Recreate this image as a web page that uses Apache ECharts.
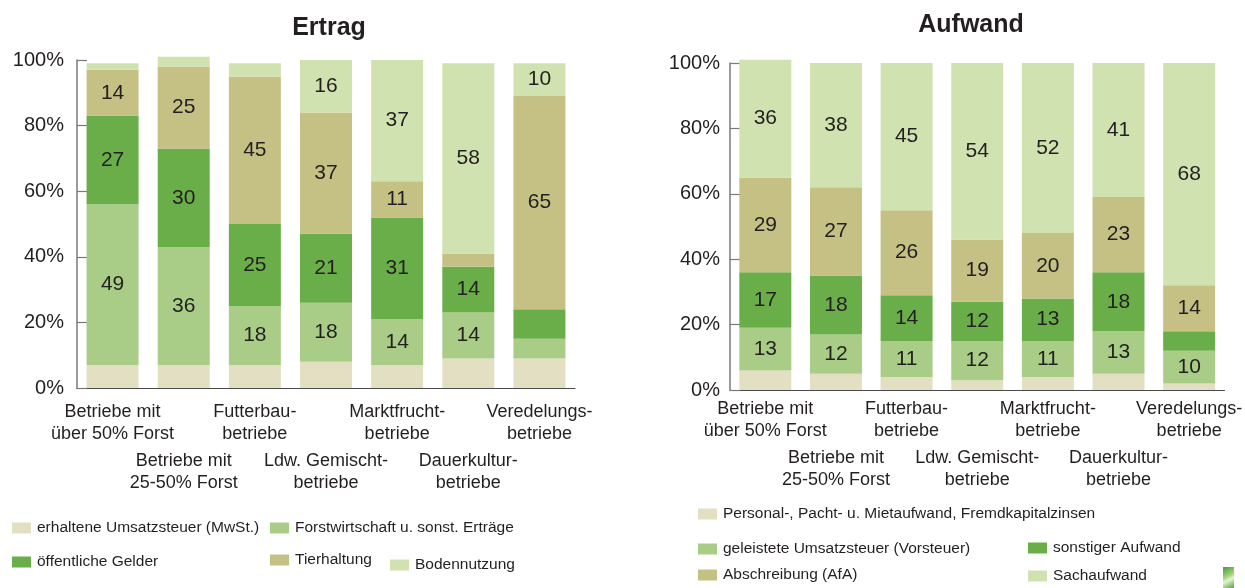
<!DOCTYPE html>
<html>
<head>
<meta charset="utf-8">
<script src="https://cdn.jsdelivr.net/npm/echarts@6/dist/echarts.min.js"></script>
<style>
  html, body { margin: 0; padding: 0; background: #fff; }
  #chart { width: 1245px; height: 588px; }
</style>
</head>
<body>
<div id="chart"></div>
<script>
// Betriebsformen (x-axis categories, shared by both panels)
const categories = [
  'Betriebe mit\nüber 50% Forst',
  'Betriebe mit\n25-50% Forst',
  'Futterbau-\nbetriebe',
  'Ldw. Gemischt-\nbetriebe',
  'Marktfrucht-\nbetriebe',
  'Dauerkultur-\nbetriebe',
  'Veredelungs-\nbetriebe'
];
const yTickMin = 0;
const yTickMax = 100;
const yTickStep = 20;

// Ertrag: shares in percent, stacked bottom to top
const ertragNames = [
  'erhaltene Umsatzsteuer (MwSt.)',
  'Forstwirtschaft u. sonst. Erträge',
  'öffentliche Gelder',
  'Tierhaltung',
  'Bodennutzung'
];
const ertragUmsatzsteuer = [7, 7, 7, 8, 7, 9, 9];
const ertragForst        = [49, 36, 18, 18, 14, 14, 6];
const ertragGelder       = [27, 30, 25, 21, 31, 14, 9];
const ertragTierhaltung  = [14, 25, 45, 37, 11, 4, 65];
const ertragBodennutzung = [2, 3, 4, 16, 37, 58, 10];

// Aufwand: shares in percent, stacked bottom to top
const aufwandNames = [
  'Personal-, Pacht- u. Mietaufwand, Fremdkapitalzinsen',
  'geleistete Umsatzsteuer (Vorsteuer)',
  'sonstiger Aufwand',
  'Abschreibung (AfA)',
  'Sachaufwand'
];
const aufwandPersonal    = [6, 5, 4, 3, 4, 5, 2];
const aufwandVorsteuer   = [13, 12, 11, 12, 11, 13, 10];
const aufwandSonstiger   = [17, 18, 14, 12, 13, 18, 6];
const aufwandAfA         = [29, 27, 26, 19, 20, 23, 14];
const aufwandSachaufwand = [36, 38, 45, 54, 52, 41, 68];

const colors = ['#e3dfc3', '#a9cd87', '#6aae49', '#c5c185', '#d0e2b0'];
const textColor = '#231f20';
const FONT = '"Liberation Sans", Arial, sans-serif';

const ertragData = [ertragUmsatzsteuer, ertragForst, ertragGelder, ertragTierhaltung, ertragBodennutzung];
const aufwandData = [aufwandPersonal, aufwandVorsteuer, aufwandSonstiger, aufwandAfA, aufwandSachaufwand];

// x labels alternate between two rows so that neighbours don't collide
function xLabel(value, index) {
  const lines = value.split('\n').map(l => '{t|' + l + '}').join('\n');
  return index % 2 === 1 ? '{g| }\n' + lines : lines;
}

function makeXAxis(gridIndex, margin) {
  return {
    type: 'category',
    gridIndex,
    data: categories,
    axisTick: { show: false },
    axisLine: { lineStyle: { color: '#4a4a4a', width: 1.2 } },
    axisLabel: {
      interval: 0,
      margin,
      formatter: xLabel,
      color: textColor,
      fontFamily: FONT,
      fontSize: 18,
      rich: {
        t: { fontSize: 18, lineHeight: 22, color: textColor, fontFamily: FONT, align: 'center' },
        g: { fontSize: 18, lineHeight: 49 }
      }
    }
  };
}

function makeYAxis(gridIndex, margin) {
  return {
    type: 'value',
    gridIndex,
    min: yTickMin,
    max: yTickMax,
    interval: yTickStep,
    splitLine: { show: false },
    axisLine: { show: true, lineStyle: { color: '#7a7a7a', width: 1.5 } },
    axisTick: { show: true, inside: true, length: 10, lineStyle: { color: '#7a7a7a', width: 1.2 } },
    axisLabel: {
      margin,
      formatter: '{value}%',
      color: textColor,
      fontFamily: FONT,
      fontSize: 20
    }
  };
}

function makeSeries(names, data, axisIndex, stackId) {
  return names.map((name, i) => ({
    name,
    type: 'bar',
    stack: stackId,
    xAxisIndex: axisIndex,
    yAxisIndex: axisIndex,
    barWidth: 52,
    clip: false,
    itemStyle: { color: colors[i] },
    emphasis: { disabled: true },
    label: {
      show: true,
      position: 'inside',
      color: textColor,
      fontFamily: FONT,
      fontSize: 21,
      formatter: p => (p.value >= 10 ? String(p.value) : '')
    },
    data: data[i]
  }));
}

function legendItem(name, left, top) {
  return {
    data: [name],
    left, top,
    orient: 'horizontal',
    icon: 'rect',
    itemWidth: 19,
    itemHeight: 11,
    itemGap: 6,
    padding: 0,
    selectedMode: false,
    textStyle: { color: textColor, fontFamily: FONT, fontSize: 15.5, lineHeight: 16, padding: [0, 0, 0, 1] }
  };
}

const chart = echarts.init(document.getElementById('chart'));
chart.setOption({
  animation: false,
  backgroundColor: '#fff',
  title: [
    { text: 'Ertrag', left: 324, top: 11, textAlign: 'center',
      textStyle: { fontFamily: FONT, fontSize: 25, fontWeight: 'bold', color: textColor } },
    { text: 'Aufwand', left: 966, top: 8, textAlign: 'center',
      textStyle: { fontFamily: FONT, fontSize: 25, fontWeight: 'bold', color: textColor } }
  ],
  grid: [
    { left: 77, top: 60, width: 498, height: 328 },
    { left: 730, top: 63, width: 497, height: 327 }
  ],
  xAxis: [makeXAxis(0, 13), makeXAxis(1, 8)],
  yAxis: [makeYAxis(0, 13), makeYAxis(1, 10)],
  legend: [
    legendItem(ertragNames[0], 12, 520),
    legendItem(ertragNames[1], 270, 520),
    legendItem(ertragNames[2], 12, 554),
    legendItem(ertragNames[3], 270, 552),
    legendItem(ertragNames[4], 390, 557),
    legendItem(aufwandNames[0], 698, 506),
    legendItem(aufwandNames[1], 698, 541),
    legendItem(aufwandNames[2], 1028, 540),
    legendItem(aufwandNames[3], 698, 567),
    legendItem(aufwandNames[4], 1028, 568)
  ],
  graphic: [
    {
      type: 'rect',
      shape: { x: 1223, y: 567, width: 11, height: 21 },
      style: {
        fill: new echarts.graphic.LinearGradient(0, 0, 1, 1, [
          { offset: 0, color: '#3f9c3a' },
          { offset: 0.45, color: '#a9d67a' },
          { offset: 0.6, color: '#e6f3d2' },
          { offset: 1, color: '#4ea644' }
        ])
      },
      silent: true
    }
  ],
  series: [
    ...makeSeries(ertragNames, ertragData, 0, 'ertrag'),
    ...makeSeries(aufwandNames, aufwandData, 1, 'aufwand')
  ]
});
</script>
</body>
</html>
